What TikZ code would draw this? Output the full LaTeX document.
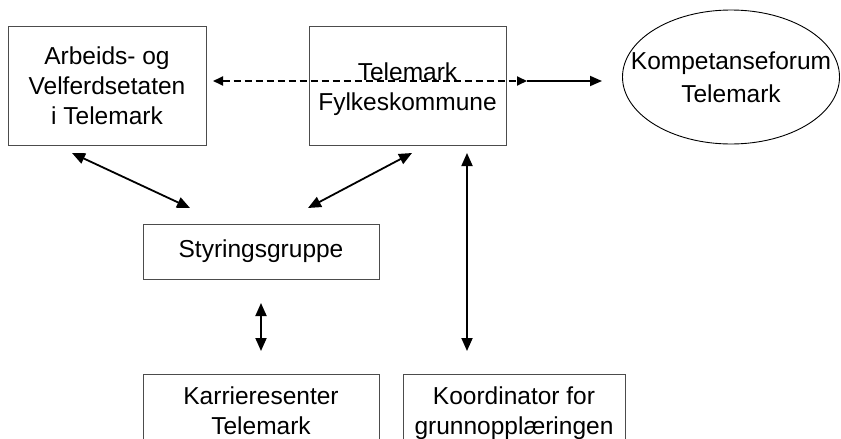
\documentclass[tikz,border=0pt]{standalone}
\usepackage{fontspec}
\setmainfont{Liberation Sans}
\usetikzlibrary{arrows.meta,shapes.geometric}
\begin{document}
\begin{tikzpicture}[x=1pt,y=-1pt,
  txt/.style={align=center, font=\fontsize{24.5}{30}\selectfont, inner sep=0pt},
  box/.style={txt, draw=black!70, line width=1pt},
  conn/.style={line width=1.8pt, {Triangle[length=13pt,width=11pt]}-{Triangle[length=13pt,width=11pt]}},
  oneway/.style={line width=1.8pt, -{Triangle[length=12pt,width=10pt]}},
  dashconn/.style={line width=1.8pt, dash pattern=on 7pt off 4pt, {Triangle[length=10pt,width=9pt]}-{Triangle[length=10pt,width=9pt]}}
]
\useasboundingbox (0,0) rectangle (841,439);
\clip (0,0) rectangle (841,439);

% boxes
\node[box, minimum width=198, minimum height=119] (arb) at (107,85.5) {Arbeids- og\\Velferdsetaten\\i Telemark};
\node[box, minimum width=197, minimum height=119] (tfk) at (407.5,85.5) {\rule{0pt}{26pt}Telemark\\Fylkeskommune};
\node[ellipse, draw=black, line width=0.9pt, minimum width=217, minimum height=134, inner sep=0pt] (komp) at (731,77) {};
\node[txt, font=\fontsize{24.5}{33}\selectfont] (kompt) at (komp.center) {Kompetanseforum\\Telemark};
\node[box, minimum width=236, minimum height=55] (sty) at (261,251.5) {Styringsgruppe};
\node[box, minimum width=236, minimum height=74] (kar) at (261,411) {Karrieresenter\\Telemark};
\node[box, minimum width=222, minimum height=79] (koo) at (514,413.6) {Koordinator for\\grunnopplæringen};

% connector ends
\coordinate (a1) at (72,153);
\coordinate (a2) at (190,208);
\coordinate (b1) at (412,153);
\coordinate (b2) at (308,208);
\coordinate (c1) at (467,153);
\coordinate (c2) at (467,351);
\coordinate (d1) at (261,303);
\coordinate (d2) at (261,351);
\coordinate (e1) at (213,81);
\coordinate (e2) at (527,81);
\coordinate (e3) at (602,81);

% connectors
\draw[conn] (a1) -- (a2);
\draw[conn] (b1) -- (b2);
\draw[conn] (c1) -- (c2);
\draw[conn] (d1) -- (d2);
\draw[dashconn] (e1) -- (e2);
\draw[oneway] (e2) -- (e3);
\end{tikzpicture}
\end{document}
